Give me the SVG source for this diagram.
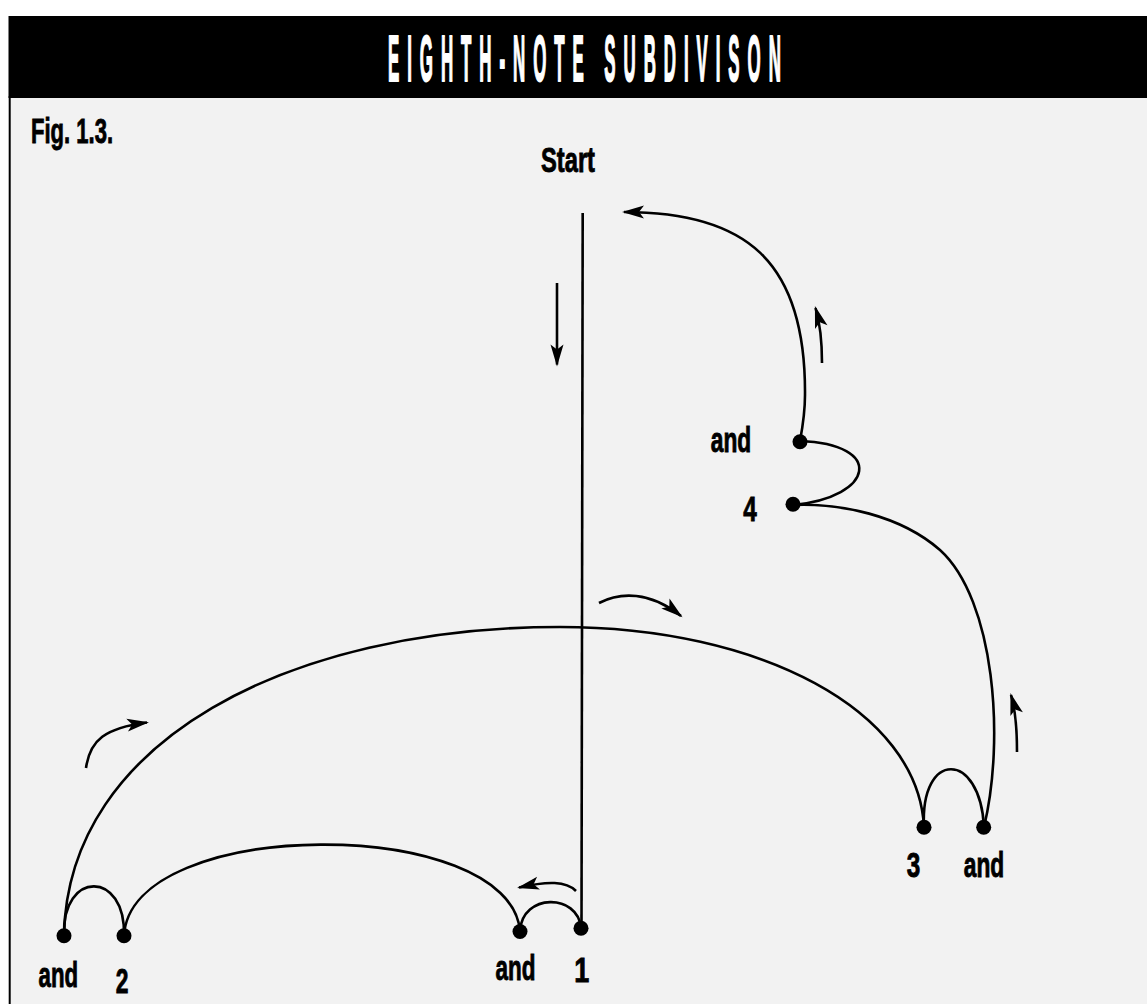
<svg xmlns="http://www.w3.org/2000/svg" width="1147" height="1004" viewBox="0 0 1147 1004">
<style>
.lbl{font-family:"Liberation Sans Narrow","Liberation Sans",Arial,sans-serif;font-weight:bold;font-size:35px;fill:#000;stroke:#000;stroke-width:0.9}
.c{fill:none;stroke:#000;stroke-width:2.6}
.a{fill:none;stroke:#000;stroke-width:2.6;marker-end:url(#ah)}
.dot{fill:#000}
</style>
<defs>
<marker id="ah" markerUnits="userSpaceOnUse" viewBox="-24 -10 28 20" markerWidth="28" markerHeight="20" refX="0" refY="0" orient="auto" overflow="visible">
<path d="M2,0 L-20,-6.5 L-15,0 L-20,6.5 Z" fill="#000"/>
</marker>
</defs>
<rect x="0" y="0" width="1147" height="1004" fill="#fff"/>
<rect x="9.7" y="97" width="1200" height="1000" fill="#f2f2f2" stroke="#000" stroke-width="2"/>
<rect x="8.5" y="16" width="1150" height="82" fill="#000"/>
<text transform="translate(388,81) scale(0.26,1)" font-family="'Liberation Sans',Arial,sans-serif" font-weight="bold" font-size="65" fill="#fff" stroke="#fff" stroke-width="2" textLength="1511" lengthAdjust="spacing">EIGHTH-NOTE SUBDIVISON</text>
<text class="lbl" x="31" y="143.3" font-size="28" textLength="82" lengthAdjust="spacingAndGlyphs">Fig. 1.3.</text>
<text class="lbl" x="568" y="171.7" font-size="34" text-anchor="middle" textLength="54" lengthAdjust="spacingAndGlyphs">Start</text>
<g id="connectors">
<path class="c" d="M582.7,213 L581.5,928"/>
<path class="a" d="M557,283 L557,364.5"/>
<path class="a" d="M800,441 C803,425 805,410 805,395 C806,260 745,212 624,212"/>
<path class="a" d="M822,363 C822,340 820,323 815.5,308"/>
<path class="c" d="M800,441 C885,444 875,497 793,505"/>
<path class="c" d="M793,505 C840,503 900,515 940,550 C995,600 1005,740 984,827"/>
<path class="a" d="M1017,752 C1017,728 1016,712 1011,695"/>
<path class="c" d="M924,827 C920,750 980,750 984,827"/>
<path class="c" d="M924,827 C918,710 760,627 560,627 C290,627 68,740 64,935"/>
<path class="a" d="M599,603 C620,592 650,591 681,616"/>
<path class="a" d="M86,768 C90,740 105,728 147,722.5"/>
<path class="c" d="M64,935 C62,870 126,870 124,936"/>
<path class="c" d="M124,936 C130,815 510,815 520,931"/>
<path class="c" d="M520,931 C522,893 578,893 581,928"/>
<path class="a" d="M576,891 C566,881 548,881 519,887.5"/>
</g>
<g id="node-1"><circle class="dot" cx="581" cy="928.3" r="7.5"/><text class="lbl" x="581.7" y="981.7" text-anchor="middle" textLength="15" lengthAdjust="spacingAndGlyphs">1</text></g>
<g id="node-and1"><circle class="dot" cx="520" cy="931.5" r="7.5"/><text class="lbl" x="515.5" y="980" text-anchor="middle" textLength="40" lengthAdjust="spacingAndGlyphs">and</text></g>
<g id="node-2"><circle class="dot" cx="124" cy="935.7" r="7.5"/><text class="lbl" x="122.2" y="992.7" text-anchor="middle" textLength="12.7" lengthAdjust="spacingAndGlyphs">2</text></g>
<g id="node-and2"><circle class="dot" cx="64" cy="935.7" r="7.5"/><text class="lbl" x="58.3" y="986.7" text-anchor="middle" textLength="39.5" lengthAdjust="spacingAndGlyphs">and</text></g>
<g id="node-3"><circle class="dot" cx="924" cy="827.3" r="7.5"/><text class="lbl" x="913.5" y="877.3" text-anchor="middle" textLength="13.5" lengthAdjust="spacingAndGlyphs">3</text></g>
<g id="node-and3"><circle class="dot" cx="983.7" cy="827.3" r="7.5"/><text class="lbl" x="984" y="876.7" text-anchor="middle" textLength="40.5" lengthAdjust="spacingAndGlyphs">and</text></g>
<g id="node-4"><circle class="dot" cx="793" cy="504.3" r="7.5"/><text class="lbl" x="750" y="521" text-anchor="middle" textLength="13.5" lengthAdjust="spacingAndGlyphs">4</text></g>
<g id="node-and4"><circle class="dot" cx="800" cy="441.7" r="7.5"/><text class="lbl" x="731" y="452" text-anchor="middle" textLength="40.5" lengthAdjust="spacingAndGlyphs">and</text></g>
</svg>
